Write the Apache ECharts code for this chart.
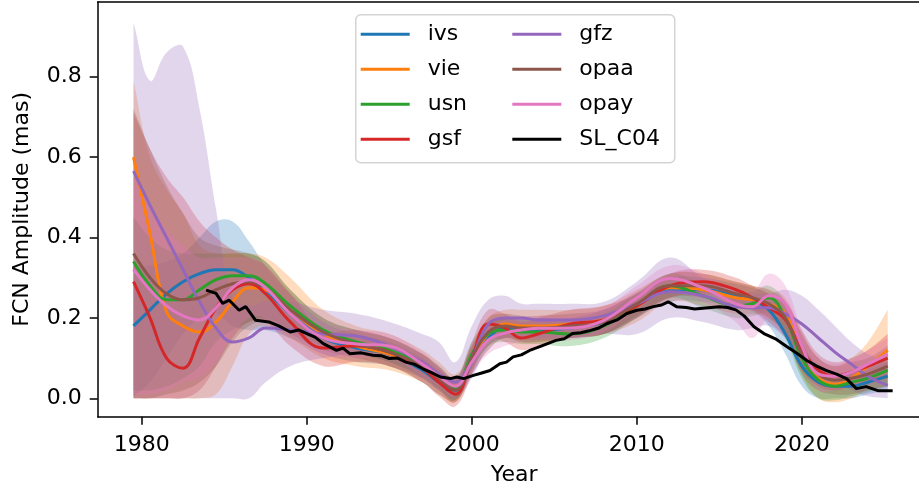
<!DOCTYPE html>
<html><head><meta charset="utf-8">
<script src="https://cdn.jsdelivr.net/npm/echarts@6/dist/echarts.min.js"></script>
<style>html,body{margin:0;padding:0;background:#fff}#c{width:919px;height:489px}</style>
</head><body><div id="c"></div>
<script>
// ---- data ----
const years = [1979.5,1980.5,1981.5,1982.5,1983.5,1984.5,1985.5,1986.5,1987.5,1989,1991,1993,1995,1997,1998,1999,2000,2001,2002,2003,2004,2006,2008,2010,2012,2014,2016,2017,2018,2019,2020,2021,2022,2023,2024,2025.2];

const ivs      = [0.18,0.22,0.26,0.29,0.31,0.32,0.32,0.30,0.27,0.21,0.15,0.125,0.11,0.07,0.04,0.02,0.09,0.15,0.175,0.17,0.17,0.175,0.19,0.23,0.27,0.27,0.255,0.245,0.22,0.16,0.08,0.04,0.03,0.03,0.04,0.055];
const ivsUpper = [0.33,0.33,0.34,0.36,0.40,0.44,0.44,0.39,0.33,0.26,0.19,0.16,0.14,0.10,0.07,0.05,0.12,0.18,0.20,0.20,0.20,0.20,0.22,0.26,0.30,0.30,0.285,0.275,0.26,0.21,0.13,0.08,0.06,0.06,0.07,0.09];
const ivsLower = [0.005,0.04,0.10,0.16,0.20,0.21,0.18,0.17,0.17,0.15,0.11,0.09,0.08,0.04,0.01,-0.005,0.06,0.12,0.15,0.14,0.14,0.15,0.16,0.20,0.24,0.24,0.225,0.215,0.18,0.11,0.03,0.0,0.0,0.0,0.01,0.02];

const vie      = [0.60,0.41,0.215,0.18,0.165,0.19,0.24,0.275,0.27,0.22,0.16,0.13,0.11,0.08,0.05,0.03,0.10,0.16,0.185,0.18,0.18,0.185,0.195,0.23,0.275,0.27,0.25,0.245,0.235,0.21,0.11,0.05,0.035,0.05,0.08,0.12];
const vieUpper = [0.79,0.60,0.52,0.46,0.38,0.36,0.36,0.36,0.35,0.30,0.22,0.18,0.16,0.12,0.09,0.06,0.13,0.20,0.22,0.22,0.22,0.22,0.23,0.27,0.31,0.31,0.29,0.28,0.27,0.25,0.16,0.10,0.08,0.10,0.14,0.22];
const vieLower = [0.0,0.0,0.0,0.0,0.0,0.01,0.08,0.16,0.18,0.15,0.10,0.08,0.07,0.04,0.01,-0.01,0.06,0.12,0.15,0.14,0.14,0.15,0.16,0.19,0.24,0.23,0.21,0.21,0.20,0.16,0.06,0.0,-0.01,0.0,0.02,0.03];

const usn      = [0.34,0.28,0.245,0.245,0.27,0.295,0.305,0.305,0.285,0.23,0.17,0.14,0.12,0.085,0.055,0.025,0.11,0.16,0.17,0.165,0.165,0.16,0.18,0.23,0.28,0.255,0.23,0.235,0.25,0.20,0.10,0.045,0.03,0.04,0.05,0.07];
const usnUpper = [0.45,0.40,0.37,0.36,0.36,0.36,0.36,0.36,0.34,0.27,0.20,0.17,0.15,0.11,0.08,0.05,0.14,0.19,0.20,0.195,0.195,0.19,0.21,0.26,0.31,0.285,0.26,0.265,0.28,0.24,0.14,0.08,0.06,0.07,0.08,0.11];
const usnLower = [0.02,0.02,0.03,0.05,0.08,0.14,0.17,0.19,0.20,0.17,0.13,0.11,0.09,0.055,0.025,-0.005,0.07,0.13,0.14,0.135,0.135,0.13,0.15,0.20,0.25,0.225,0.20,0.205,0.21,0.15,0.05,0.0,-0.005,0.005,0.015,0.03];

const gsf      = [0.29,0.20,0.10,0.075,0.15,0.225,0.27,0.285,0.26,0.19,0.125,0.13,0.115,0.075,0.04,0.01,0.10,0.185,0.175,0.15,0.16,0.185,0.195,0.23,0.28,0.29,0.27,0.25,0.225,0.195,0.12,0.07,0.055,0.065,0.08,0.10];
const gsfUpper = [0.71,0.62,0.55,0.50,0.44,0.40,0.37,0.35,0.33,0.26,0.17,0.17,0.15,0.11,0.075,0.045,0.14,0.22,0.21,0.19,0.20,0.22,0.23,0.26,0.31,0.32,0.30,0.28,0.26,0.24,0.17,0.11,0.09,0.10,0.12,0.16];
const gsfLower = [0.0,0.0,0.0,0.0,0.02,0.08,0.15,0.19,0.19,0.13,0.08,0.09,0.08,0.04,0.005,-0.02,0.06,0.15,0.14,0.12,0.13,0.15,0.16,0.20,0.25,0.26,0.24,0.22,0.19,0.15,0.07,0.03,0.02,0.03,0.04,0.05];

const gfz      = [0.565,0.48,0.40,0.32,0.24,0.175,0.14,0.15,0.175,0.17,0.16,0.155,0.13,0.09,0.06,0.04,0.10,0.185,0.20,0.20,0.195,0.195,0.205,0.235,0.265,0.255,0.228,0.225,0.225,0.21,0.185,0.15,0.115,0.085,0.055,0.032];
const gfzUpper = [0.935,0.79,0.86,0.875,0.72,0.47,0.25,0.23,0.24,0.24,0.22,0.21,0.19,0.16,0.14,0.09,0.18,0.245,0.255,0.235,0.235,0.235,0.24,0.29,0.35,0.30,0.265,0.26,0.26,0.27,0.255,0.22,0.18,0.14,0.11,0.09];
const gfzLower = [0.0,0.0,0.0,0.0,0.0,0.0,0.0,0.0,0.04,0.08,0.10,0.11,0.09,0.05,0.02,0.0,0.05,0.13,0.15,0.15,0.15,0.15,0.16,0.16,0.20,0.19,0.17,0.175,0.18,0.15,0.11,0.07,0.045,0.02,0.005,0.0];

const opaa      = [0.36,0.30,0.26,0.245,0.25,0.27,0.285,0.29,0.275,0.22,0.165,0.135,0.115,0.08,0.05,0.02,0.10,0.165,0.18,0.175,0.175,0.18,0.19,0.235,0.28,0.28,0.26,0.25,0.235,0.20,0.11,0.06,0.045,0.05,0.06,0.08];
const opaaUpper = [0.72,0.62,0.53,0.46,0.40,0.38,0.37,0.36,0.34,0.27,0.20,0.17,0.15,0.11,0.08,0.05,0.13,0.20,0.21,0.205,0.205,0.21,0.22,0.265,0.31,0.31,0.29,0.28,0.27,0.24,0.16,0.10,0.08,0.09,0.10,0.13];
const opaaLower = [0.0,0.0,0.01,0.02,0.04,0.08,0.14,0.18,0.19,0.16,0.12,0.10,0.08,0.05,0.02,-0.01,0.07,0.13,0.15,0.145,0.145,0.15,0.16,0.205,0.25,0.25,0.23,0.22,0.20,0.16,0.06,0.02,0.01,0.01,0.02,0.03];

const opay      = [0.32,0.27,0.23,0.205,0.195,0.225,0.275,0.295,0.275,0.21,0.15,0.135,0.13,0.085,0.055,0.03,0.09,0.145,0.162,0.17,0.174,0.175,0.194,0.25,0.298,0.275,0.235,0.228,0.255,0.235,0.13,0.06,0.055,0.065,0.085,0.11];
const opayUpper = [0.55,0.48,0.42,0.38,0.35,0.35,0.35,0.35,0.33,0.26,0.19,0.17,0.16,0.115,0.08,0.05,0.12,0.18,0.195,0.20,0.205,0.205,0.225,0.28,0.33,0.31,0.27,0.265,0.31,0.28,0.17,0.10,0.085,0.095,0.12,0.15];
const opayLower = [0.01,0.01,0.02,0.04,0.05,0.09,0.16,0.20,0.20,0.16,0.11,0.10,0.10,0.055,0.03,0.005,0.06,0.11,0.13,0.14,0.145,0.145,0.165,0.22,0.265,0.24,0.19,0.15,0.20,0.19,0.09,0.02,0.02,0.03,0.045,0.06];

const slYears  = [1983.9,1984.5,1984.9,1985.3,1985.9,1986.3,1986.9,1987.7,1988.3,1989.0,1989.5,1990.0,1990.5,1991.0,1991.8,1992.2,1992.6,1993.3,1994.0,1994.5,1995.0,1995.5,1996.0,1996.5,1997.0,1997.5,1998.1,1998.7,1999.1,1999.5,2000.1,2000.6,2001.1,2001.7,2002.1,2002.5,2003.0,2003.5,2004.2,2005.1,2005.6,2006.1,2006.6,2007.2,2007.7,2008.2,2008.8,2009.4,2010.0,2010.5,2011.0,2011.5,2011.9,2012.4,2013.0,2013.5,2014.0,2014.5,2015.0,2015.5,2016.0,2016.5,2017.1,2017.7,2018.4,2019.1,2019.7,2020.3,2020.9,2021.5,2022.1,2022.7,2023.3,2023.9,2024.6,2025.5];
const slValues = [0.269,0.261,0.236,0.244,0.219,0.228,0.194,0.19,0.18,0.165,0.17,0.161,0.152,0.136,0.119,0.125,0.111,0.113,0.107,0.106,0.099,0.1,0.09,0.085,0.074,0.065,0.053,0.049,0.053,0.049,0.057,0.063,0.069,0.086,0.09,0.103,0.108,0.119,0.13,0.144,0.148,0.161,0.163,0.169,0.175,0.186,0.195,0.211,0.219,0.222,0.228,0.232,0.24,0.228,0.226,0.222,0.224,0.226,0.228,0.226,0.22,0.205,0.178,0.161,0.148,0.128,0.112,0.094,0.08,0.069,0.06,0.049,0.024,0.029,0.019,0.019];

const names   = ['ivs','vie','usn','gsf','gfz','opaa','opay'];
const colors  = ['#1f77b4','#ff7f0e','#2ca02c','#d62728','#9467bd','#8c564b','#e377c2'];
const bandFill = ['rgba(31,119,180,0.27)','rgba(255,127,14,0.27)','rgba(44,160,44,0.27)','rgba(214,39,40,0.27)','rgba(148,103,189,0.27)','rgba(140,86,75,0.27)','rgba(227,119,194,0.27)'];
const centers = [ivs, vie, usn, gsf, gfz, opaa, opay];
const uppers  = [ivsUpper, vieUpper, usnUpper, gsfUpper, gfzUpper, opaaUpper, opayUpper];
const lowers  = [ivsLower, vieLower, usnLower, gsfLower, gfzLower, opaaLower, opayLower];
const xTicks = [1980,1990,2000,2010,2020];
const yTicks = [0,0.2,0.4,0.6,0.8];

// ---- chart ----
const FONT = 'DejaVu Sans';
const SMOOTH = 0.4;
const series = [];
names.forEach((nm, i) => {
  series.push({
    type: 'custom', name: nm + ' band', silent: true, clip: true,
    data: [[years[0], lowers[i][0]]],
    renderItem: function (params, api) {
      const U = years.map((x, k) => api.coord([x, uppers[i][k]]));
      const L = years.map((x, k) => api.coord([x, lowers[i][k]])).reverse();
      const pts = [U[0]].concat(U, [U[U.length - 1], L[0]], L, [L[L.length - 1]]);
      return { type: 'polygon', shape: { points: pts, smooth: SMOOTH }, style: { fill: bandFill[i], stroke: null } };
    }
  });
  series.push({
    type: 'line', name: nm, silent: true, smooth: SMOOTH, symbol: 'none', showSymbol: false,
    data: years.map((x, k) => [x, centers[i][k]]),
    lineStyle: { width: 3, color: colors[i] }, itemStyle: { color: colors[i] }
  });
});
series.push({
  type: 'line', name: 'SL_C04', silent: true, smooth: false, symbol: 'none', showSymbol: false,
  data: slYears.map((x, k) => [x, slValues[k]]),
  lineStyle: { width: 3, color: '#000' }, itemStyle: { color: '#000' }
});

const legendCommon = {
  orient: 'vertical', padding: 0, itemWidth: 49, itemHeight: 3, itemGap: 13,
  icon: 'rect',
  textStyle: { fontSize: 22, lineHeight: 22, fontFamily: FONT, color: '#000', padding: [0, 0, 0, 13] },
  selectedMode: false
};

const chart = echarts.init(document.getElementById('c'), null, { renderer: 'canvas' });
chart.setOption({
  animation: false,
  backgroundColor: '#fff',
  grid: { left: 97.7, right: -11.6, top: 2, bottom: 72.3, outerBoundsMode: 'none', containLabel: false },
  xAxis: [{
    type: 'value', min: 1977.33, max: 2027.8, position: 'bottom',
    axisLine: { show: true, onZero: false, lineStyle: { color: '#000', width: 1.5 } },
    axisTick: { show: true, length: 8, customValues: xTicks, lineStyle: { color: '#000', width: 1.5 } },
    axisLabel: { customValues: xTicks, fontSize: 22, fontFamily: FONT, color: '#000', margin: 18, formatter: v => String(Math.round(v)) },
    splitLine: { show: false },
    name: 'Year', nameLocation: 'middle', nameGap: 48,
    nameTextStyle: { fontSize: 22, fontFamily: FONT, color: '#000' }
  }, {
    type: 'value', min: 1977.33, max: 2027.8, position: 'top',
    axisLine: { show: true, onZero: false, lineStyle: { color: '#000', width: 1.5 } },
    axisTick: { show: false }, axisLabel: { show: false }, splitLine: { show: false }
  }],
  yAxis: {
    type: 'value', min: -0.0458, max: 0.9858,
    axisLine: { show: true, onZero: false, lineStyle: { color: '#000', width: 1.5 } },
    axisTick: { show: true, length: 8, customValues: yTicks, lineStyle: { color: '#000', width: 1.5 } },
    axisLabel: { customValues: yTicks, fontSize: 22, fontFamily: FONT, color: '#000', margin: 16, formatter: v => v.toFixed(1) },
    splitLine: { show: false },
    name: 'FCN Amplitude (mas)', nameLocation: 'middle', nameGap: 64, nameRotate: 90,
    nameTextStyle: { fontSize: 22, fontFamily: FONT, color: '#000' }
  },
  legend: [
    Object.assign({}, legendCommon, { data: ['ivs', 'vie', 'usn', 'gsf'], left: 360.7, top: 23.2 }),
    Object.assign({}, legendCommon, { data: ['gfz', 'opaa', 'opay', 'SL_C04'], left: 512.3, top: 23.2 })
  ],
  graphic: [{
    type: 'rect', left: 355, top: 14, z: 3,
    shape: { width: 319, height: 148, r: 5 },
    style: { fill: 'rgba(255,255,255,0.8)', stroke: '#d4d4d4', lineWidth: 1.5 }
  }],
  series: series
});
</script></body></html>
